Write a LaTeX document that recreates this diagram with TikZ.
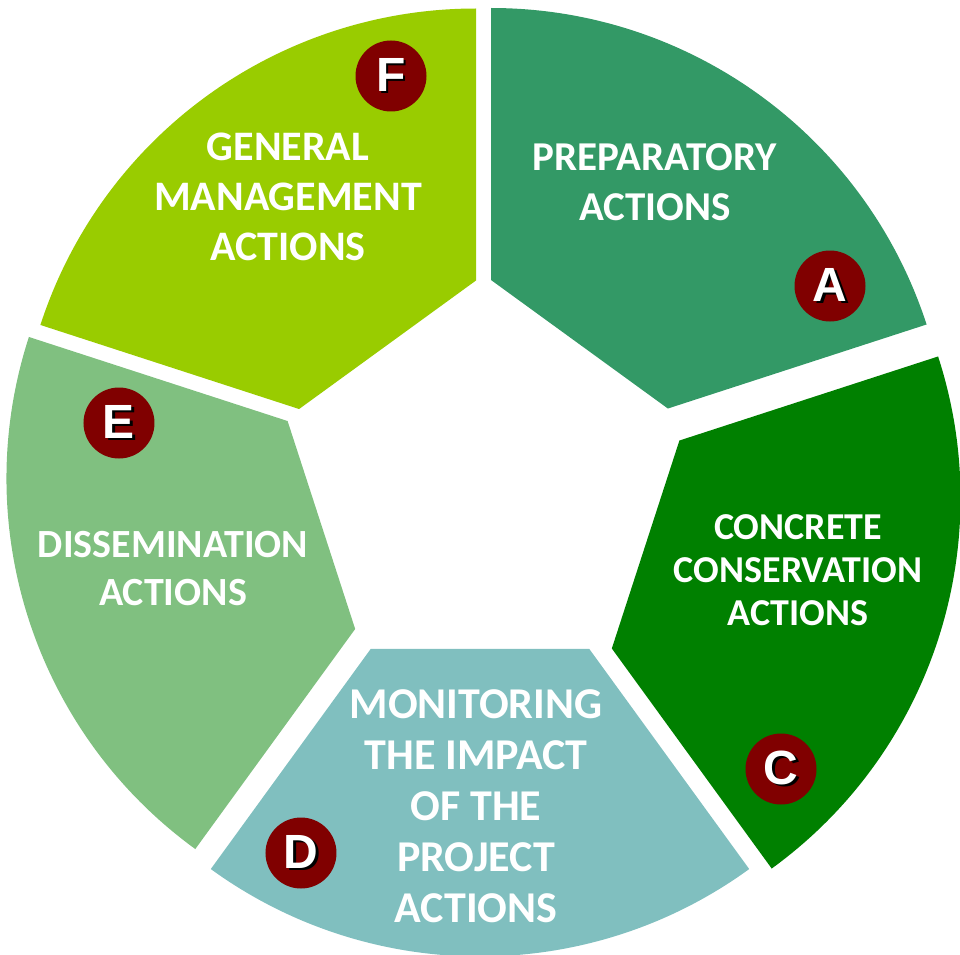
\documentclass[tikz,border=0pt]{standalone}
\usepackage{fontspec}
\setmainfont{Carlito}
\newfontfamily\badgefont{Liberation Sans}

\definecolor{mgmtgreen}{HTML}{99CC00}
\definecolor{prepgreen}{HTML}{339966}
\definecolor{consgreen}{HTML}{008000}
\definecolor{monteal}{HTML}{80BFBF}
\definecolor{dissgreen}{HTML}{80C080}
\definecolor{badgered}{HTML}{800000}

% white letter with a black shadow just below and right of it
\newcommand{\shadowletter}[1]{\rlap{\kern2.5pt\raisebox{-2.5pt}{\color{black}#1}}#1}

\begin{document}
\begin{tikzpicture}[x=1pt,y=1pt]
        \tikzstyle{every node}=[inner sep=0pt, text=white]
        \tikzstyle{caption}=[font=\bfseries]
        \tikzstyle{badge}=[circle, fill=badgered, minimum size=71pt, font=\badgefont\bfseries\fontsize{48}{48}\selectfont]

        \useasboundingbox (-483,-473) rectangle (477,481);

        % the five pieces of the ring, pushed out a little from the middle
        \fill[prepgreen, shift={(8,15)}]    (18:186)  -- (18:458)  arc[start angle=18,  end angle=90,  radius=458] -- (90:186)  -- cycle;
        \fill[consgreen, shift={(19.5,-17)}] (-54:186) -- (-54:458) arc[start angle=-54, end angle=18,  radius=458] -- (18:186)  -- cycle;
        \fill[monteal,   shift={(-3,-17.5)}] (234:186) -- (234:458) arc[start angle=234, end angle=306, radius=458] -- (306:186) -- cycle;
        \fill[dissgreen, shift={(-18.5,2.5)}] (162:186) -- (162:458) arc[start angle=162, end angle=234, radius=458] -- (234:186) -- cycle;
        \fill[mgmtgreen, shift={(-7,14.5)}] (90:186)  -- (90:458)  arc[start angle=90,  end angle=162, radius=458] -- (162:186) -- cycle;

        \node[caption] (prep) at (172,296)  {\fontsize{41}{50}\selectfont\begin{tabular}{c} PREPARATORY \\ ACTIONS \end{tabular}};
        \node[caption] (cons) at (315,-93)  {\fontsize{38}{43}\selectfont\begin{tabular}{c} CONCRETE \\ CONSERVATION \\ ACTIONS \end{tabular}};
        \node[caption] (mon)  at (-7,-329)  {\fontsize{44}{51}\selectfont\begin{tabular}{c} MONITORING \\ THE IMPACT \\ OF THE \\ PROJECT \\ ACTIONS \end{tabular}};
        \node[caption] (diss) at (-310,-91) {\fontsize{40}{48}\selectfont\begin{tabular}{c} DISSEMINATION \\ ACTIONS \end{tabular}};
        \node[caption] (mgmt) at (-195,281) {\fontsize{42}{50}\selectfont\begin{tabular}{c} GENERAL \\ MANAGEMENT \\ ACTIONS \end{tabular}};

        \node[badge] (badgeA) at (347,195)   {\shadowletter{A}};
        \node[badge] (badgeC) at (298,-288)  {\shadowletter{C}};
        \node[badge] (badgeD) at (-182,-372) {\shadowletter{D}};
        \node[badge] (badgeE) at (-364,58)   {\shadowletter{E}};
        \node[badge] (badgeF) at (-92,405)   {\shadowletter{F}};
\end{tikzpicture}
\end{document}
